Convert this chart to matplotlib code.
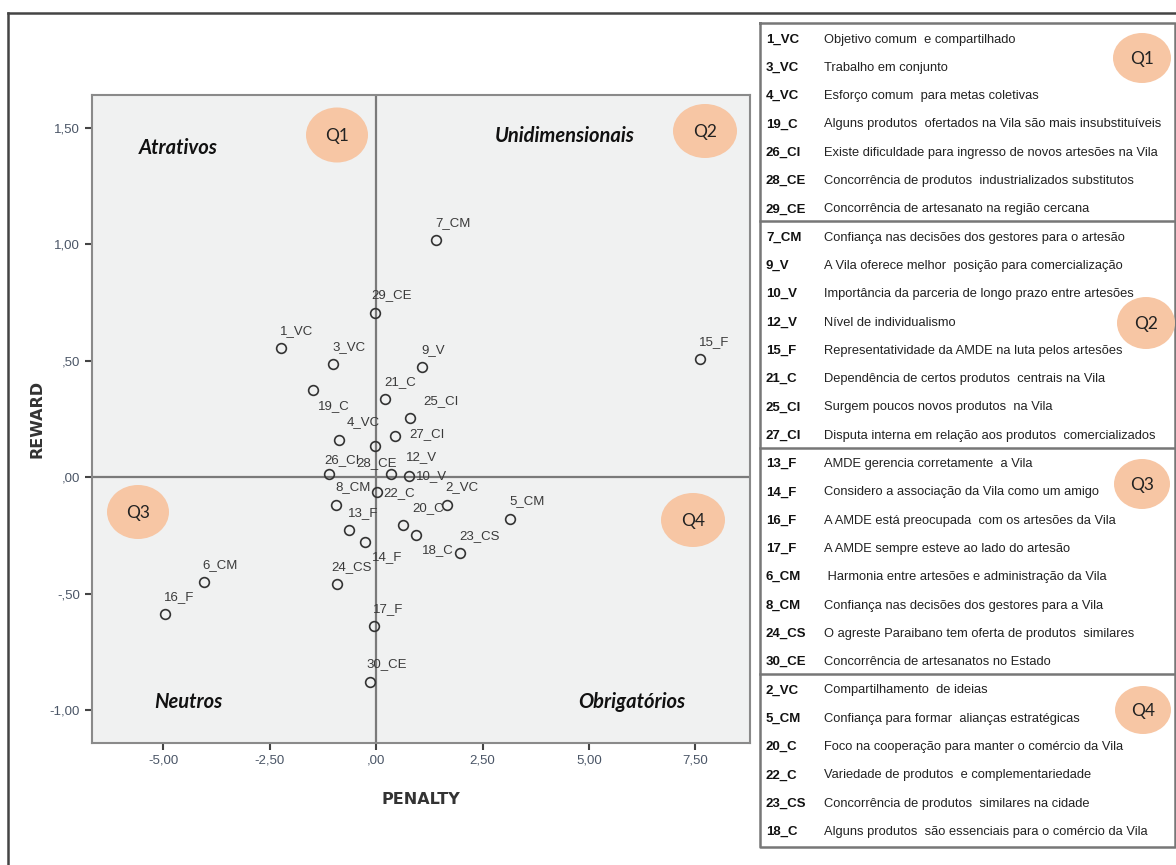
import matplotlib.pyplot as plt
from matplotlib.patches import Ellipse

# dados
codigos = [
    "1_VC", "3_VC", "4_VC", "19_C", "26_CI", "28_CE", "29_CE",
    "7_CM", "9_V", "10_V", "12_V", "15_F", "21_C", "25_CI", "27_CI",
    "13_F", "14_F", "16_F", "17_F", "6_CM", "8_CM", "24_CS", "30_CE",
    "2_VC", "5_CM", "20_C", "22_C", "23_CS", "18_C",
]
penalty = [
    -2.24, -1.00, -0.87, -1.48, -1.11, -0.02, -0.02,
    1.41, 1.08, 0.78, 0.35, 7.60, 0.21, 0.80, 0.45,
    -0.64, -0.26, -4.96, -0.06, -4.05, -0.93, -0.91, -0.14,
    1.66, 3.15, 0.63, 0.02, 1.98, 0.94,
]
reward = [
    0.554, 0.484, 0.162, 0.373, 0.013, 0.134, 0.703,
    1.017, 0.473, 0.005, 0.013, 0.506, 0.335, 0.255, 0.176,
    -0.227, -0.278, -0.588, -0.638, -0.449, -0.117, -0.459, -0.879,
    -0.117, -0.177, -0.206, -0.063, -0.327, -0.249,
]

x_ticks = [-5.0, -2.5, 0.0, 2.5, 5.0, 7.5]
y_ticks = [-1.0, -0.5, 0.0, 0.5, 1.0, 1.5]

# tabela lateral
q1_codigos = ["1_VC", "3_VC", "4_VC", "19_C", "26_CI", "28_CE", "29_CE"]
q1_textos = [
    "Objetivo comum  e compartilhado",
    "Trabalho em conjunto",
    "Esforço comum  para metas coletivas",
    "Alguns produtos  ofertados na Vila são mais insubstituíveis",
    "Existe dificuldade para ingresso de novos artesões na Vila",
    "Concorrência de produtos  industrializados substitutos",
    "Concorrência de artesanato na região cercana",
]
q2_codigos = ["7_CM", "9_V", "10_V", "12_V", "15_F", "21_C", "25_CI", "27_CI"]
q2_textos = [
    "Confiança nas decisões dos gestores para o artesão",
    "A Vila oferece melhor  posição para comercialização",
    "Importância da parceria de longo prazo entre artesões",
    "Nível de individualismo",
    "Representatividade da AMDE na luta pelos artesões",
    "Dependência de certos produtos  centrais na Vila",
    "Surgem poucos novos produtos  na Vila",
    "Disputa interna em relação aos produtos  comercializados",
]
q3_codigos = ["13_F", "14_F", "16_F", "17_F", "6_CM", "8_CM", "24_CS", "30_CE"]
q3_textos = [
    "AMDE gerencia corretamente  a Vila",
    "Considero a associação da Vila como um amigo",
    "A AMDE está preocupada  com os artesões da Vila",
    "A AMDE sempre esteve ao lado do artesão",
    " Harmonia entre artesões e administração da Vila",
    "Confiança nas decisões dos gestores para a Vila",
    "O agreste Paraibano tem oferta de produtos  similares",
    "Concorrência de artesanatos no Estado",
]
q4_codigos = ["2_VC", "5_CM", "20_C", "22_C", "23_CS", "18_C"]
q4_textos = [
    "Compartilhamento  de ideias",
    "Confiança para formar  alianças estratégicas",
    "Foco na cooperação para manter o comércio da Vila",
    "Variedade de produtos  e complementariedade",
    "Concorrência de produtos  similares na cidade",
    "Alguns produtos  são essenciais para o comércio da Vila",
]

# deslocamento dos rótulos (pixels)
desloc_padrao = (-1, 17)
desloc = {
    "19_C": (5, -16), "25_CI": (13, 17), "4_VC": (8, 17), "27_CI": (14, 2),
    "12_V": (15, 17), "26_CI": (-4, 14), "28_CE": (-19, -17), "10_V": (7, 0),
    "22_C": (6, -1), "20_C": (9, 17), "18_C": (6, -15), "14_F": (7, -15),
    "24_CS": (-6, 17), "29_CE": (-4, 18), "30_CE": (-4, 18),
}

fonte_estreita = ["Liberation Sans Narrow", "Liberation Sans", "DejaVu Sans"]
cor_bolha = "#F7C6A4"


def rotulo_tick(v):
    s = f"{v:.2f}".replace(".", ",")
    if abs(v) < 1:
        s = s.replace("0,", ",", 1)
    return s


W, H = 1176, 865
fig = plt.figure(figsize=(W / 100, H / 100), dpi=100)
fig.patch.set_facecolor("white")

# gráfico principal
ax = fig.add_axes([92 / W, 1 - 743 / H, (750 - 92) / W, (743 - 95) / H])
ax.set_facecolor("#F0F1F1")
ax.set_xlim(-6.67, 8.78)
ax.set_ylim(-1.14, 1.64)

ax.axvline(0, color="#7A7A7A", linewidth=1.6, zorder=1)
ax.axhline(0, color="#7A7A7A", linewidth=1.6, zorder=1)

ax.plot(
    penalty, reward,
    linestyle="none", marker="o", markersize=7,
    markerfacecolor="none", markeredgecolor="#333333",
    markeredgewidth=1.2, zorder=3
)

for cod, px, py in zip(codigos, penalty, reward):
    dx, dy = desloc.get(cod, desloc_padrao)
    ax.annotate(
        cod, (px, py), xytext=(dx, dy), textcoords="offset pixels",
        ha="left", va="center", fontsize=9.5, color="#3A3A3A",
        family=fonte_estreita, zorder=4
    )

ax.set_xticks(x_ticks)
ax.set_yticks(y_ticks)
ax.set_xticklabels([rotulo_tick(v) for v in x_ticks])
ax.set_yticklabels([rotulo_tick(v) for v in y_ticks])
ax.tick_params(direction="out", length=5, width=1.5, color="#444444",
               labelsize=9.5, labelcolor="#4A5566")
for lab in ax.get_xticklabels() + ax.get_yticklabels():
    lab.set_family(fonte_estreita)
for sp in ax.spines.values():
    sp.set_color("#8A8A8A")
    sp.set_linewidth(1.5)

ax.set_xlabel("PENALTY", fontsize=11.5, fontweight="bold", color="#333333",
              labelpad=18)
ax.set_ylabel("REWARD", fontsize=11.5, fontweight="bold", color="#333333",
              labelpad=4)

# camada de sobreposição em pixels
ov = fig.add_axes([0, 0, 1, 1])
ov.set_xlim(0, W)
ov.set_ylim(H, 0)
ov.axis("off")
ov.patch.set_alpha(0)

# moldura externa
ov.plot([8, W], [13, 13], color="#444444", linewidth=1.8)
ov.plot([8, 8], [13, H], color="#444444", linewidth=1.8)

# quadrantes
nomes_quad = [("Atrativos", 178, 148), ("Unidimensionais", 565, 136),
              ("Neutros", 188, 702), ("Obrigatórios", 632, 702)]
for nome, tx, ty in nomes_quad:
    ov.text(tx, ty, nome, ha="center", va="center", fontsize=14.5,
            fontweight="bold", style="italic", family=["Lato", "DejaVu Sans"],
            color="#111111")

bolhas = [("Q1", 337, 135, 62, 55), ("Q2", 705, 131, 64, 54),
          ("Q3", 138, 512, 62, 54), ("Q4", 693, 520, 64, 54),
          ("Q1", 1142, 58, 58, 50), ("Q2", 1146, 323, 58, 52),
          ("Q3", 1142, 484, 56, 50), ("Q4", 1143, 710, 56, 48)]
for txt, bx, by, bw, bh in bolhas:
    ov.add_patch(Ellipse((bx, by), bw, bh, facecolor=cor_bolha,
                         edgecolor="none", zorder=5))
    ov.text(bx, by + 1, txt, ha="center", va="center", fontsize=12.5,
            family=["Lato", "DejaVu Sans"], color="#222222", zorder=6)

# tabela
x_esq, x_dir, y_topo, y_base = 760, W - 1, 23, 847
ov.plot([x_esq, x_dir, x_dir, x_esq, x_esq],
        [y_topo, y_topo, y_base, y_base, y_topo],
        color="#777777", linewidth=1.8)

grupos = [(q1_codigos, q1_textos), (q2_codigos, q2_textos),
          (q3_codigos, q3_textos), (q4_codigos, q4_textos)]
linha = 0
passo = 28.3
for g, (cods, textos) in enumerate(grupos):
    for cod, desc in zip(cods, textos):
        ty = 39.5 + passo * linha
        ov.text(766, ty, cod, ha="left", va="center", fontsize=9.5,
                fontweight="bold", family=fonte_estreita, color="#111111")
        ov.text(824, ty, desc, ha="left", va="center", fontsize=9.3,
                family=fonte_estreita, color="#222222")
        linha += 1
    if g < 3:
        ys = 39.5 + passo * (linha - 0.5) - 2
        ov.plot([x_esq, x_dir], [ys, ys], color="#777777", linewidth=1.8)

fig.savefig("out.png", dpi=100)
